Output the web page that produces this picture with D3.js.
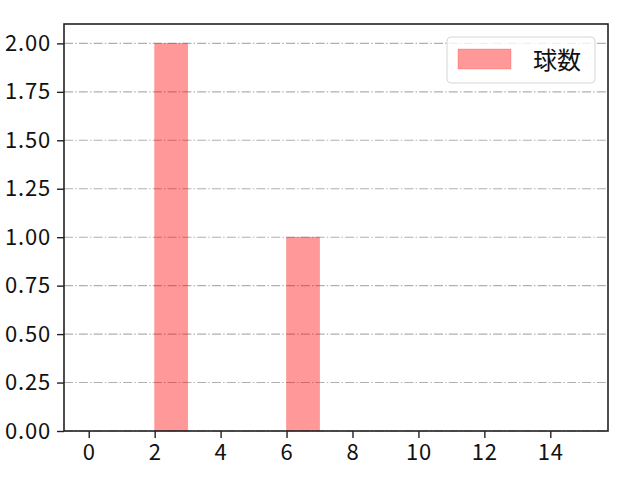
<!DOCTYPE html>
<meta charset="utf-8">
<script src="https://d3js.org/d3.v7.min.js"></script>
<style>
  body { margin: 0; background: #fff; }
  text { font-family: "Noto Sans CJK JP", "DejaVu Sans", sans-serif; }
</style>
<body>
<div id="chart"></div>
<script>
// histogram bins (left edges) and counts
var binStarts = [0, 1, 2, 3, 4, 5, 6, 7, 8, 9, 10, 11, 12, 13, 14];
var counts    = [0, 0, 2, 0, 0, 0, 1, 0, 0, 0, 0, 0, 0, 0, 0];
var xTicks = [0, 2, 4, 6, 8, 10, 12, 14];
var yTicks = [0, 0.25, 0.5, 0.75, 1.0, 1.25, 1.5, 1.75, 2.0];
var seriesName = "球数";

var W = 640, H = 480;
var margin = {top: 24, right: 32, bottom: 49, left: 64};
var width = W - margin.left - margin.right,
    height = H - margin.top - margin.bottom;

var svg = d3.select("#chart").append("svg")
  .attr("width", W).attr("height", H);
var g = svg.append("g")
  .attr("transform", "translate(" + margin.left + "," + margin.top + ")");

var x = d3.scaleLinear().domain([-0.75, 15.75]).range([0, width]);
var y = d3.scaleLinear().domain([0, 2.1]).range([height, 0]);

// grid
g.selectAll(".grid").data(yTicks).enter().append("line")
  .attr("x1", 0).attr("x2", width)
  .attr("y1", function(d) { return y(d); })
  .attr("y2", function(d) { return y(d); })
  .attr("stroke", "#b0b0b0").attr("stroke-width", 1.1)
  .attr("stroke-dasharray", "9,2.2,1.4,2.2");

// bars
g.selectAll(".bar").data(binStarts.filter(function(d, i) { return counts[i] > 0; }))
  .enter().append("rect")
  .attr("x", function(d) { return x(d); })
  .attr("width", function(d) { return x(d + 1) - x(d); })
  .attr("y", function(d) { return y(counts[binStarts.indexOf(d)]); })
  .attr("height", function(d) { return height - y(counts[binStarts.indexOf(d)]); })
  .attr("fill", "red").attr("fill-opacity", 0.4)
  .attr("stroke", "red").attr("stroke-opacity", 0.2).attr("stroke-width", 1);

// axes
var xAxis = g.append("g").attr("transform", "translate(0," + height + ")")
  .call(d3.axisBottom(x).tickValues(xTicks).tickSize(7).tickPadding(6));
var yAxis = g.append("g")
  .call(d3.axisLeft(y).tickValues(yTicks).tickSize(7).tickPadding(6)
    .tickFormat(d3.format(".2f")));
[xAxis, yAxis].forEach(function(a) {
  a.select(".domain").remove();
  a.selectAll("line").attr("stroke", "#222").attr("stroke-width", 1.4);
  a.selectAll("text").attr("fill", "#111").style("font-size", "22px")
    .style("letter-spacing", "0.8px")
    .style("font-family", '"Noto Sans CJK JP", "DejaVu Sans", sans-serif');
});

// frame
g.append("rect").attr("width", width).attr("height", height)
  .attr("fill", "none").attr("stroke", "#222").attr("stroke-width", 1.6);

// legend
var leg = g.append("g").attr("transform", "translate(" + (width - 161) + ",13)");
leg.append("rect").attr("width", 148).attr("height", 46).attr("rx", 4)
  .attr("fill", "#fff").attr("fill-opacity", 0.8)
  .attr("stroke", "#d6d6d6").attr("stroke-width", 1);
leg.append("rect").attr("x", 11).attr("y", 12).attr("width", 53).attr("height", 20)
  .attr("fill", "red").attr("fill-opacity", 0.4)
  .attr("stroke", "red").attr("stroke-opacity", 0.2);
leg.append("text").attr("x", 86).attr("y", 23).attr("dy", "0.36em")
  .style("font-size", "24px").attr("fill", "#111").text(seriesName);
</script>
</body>
